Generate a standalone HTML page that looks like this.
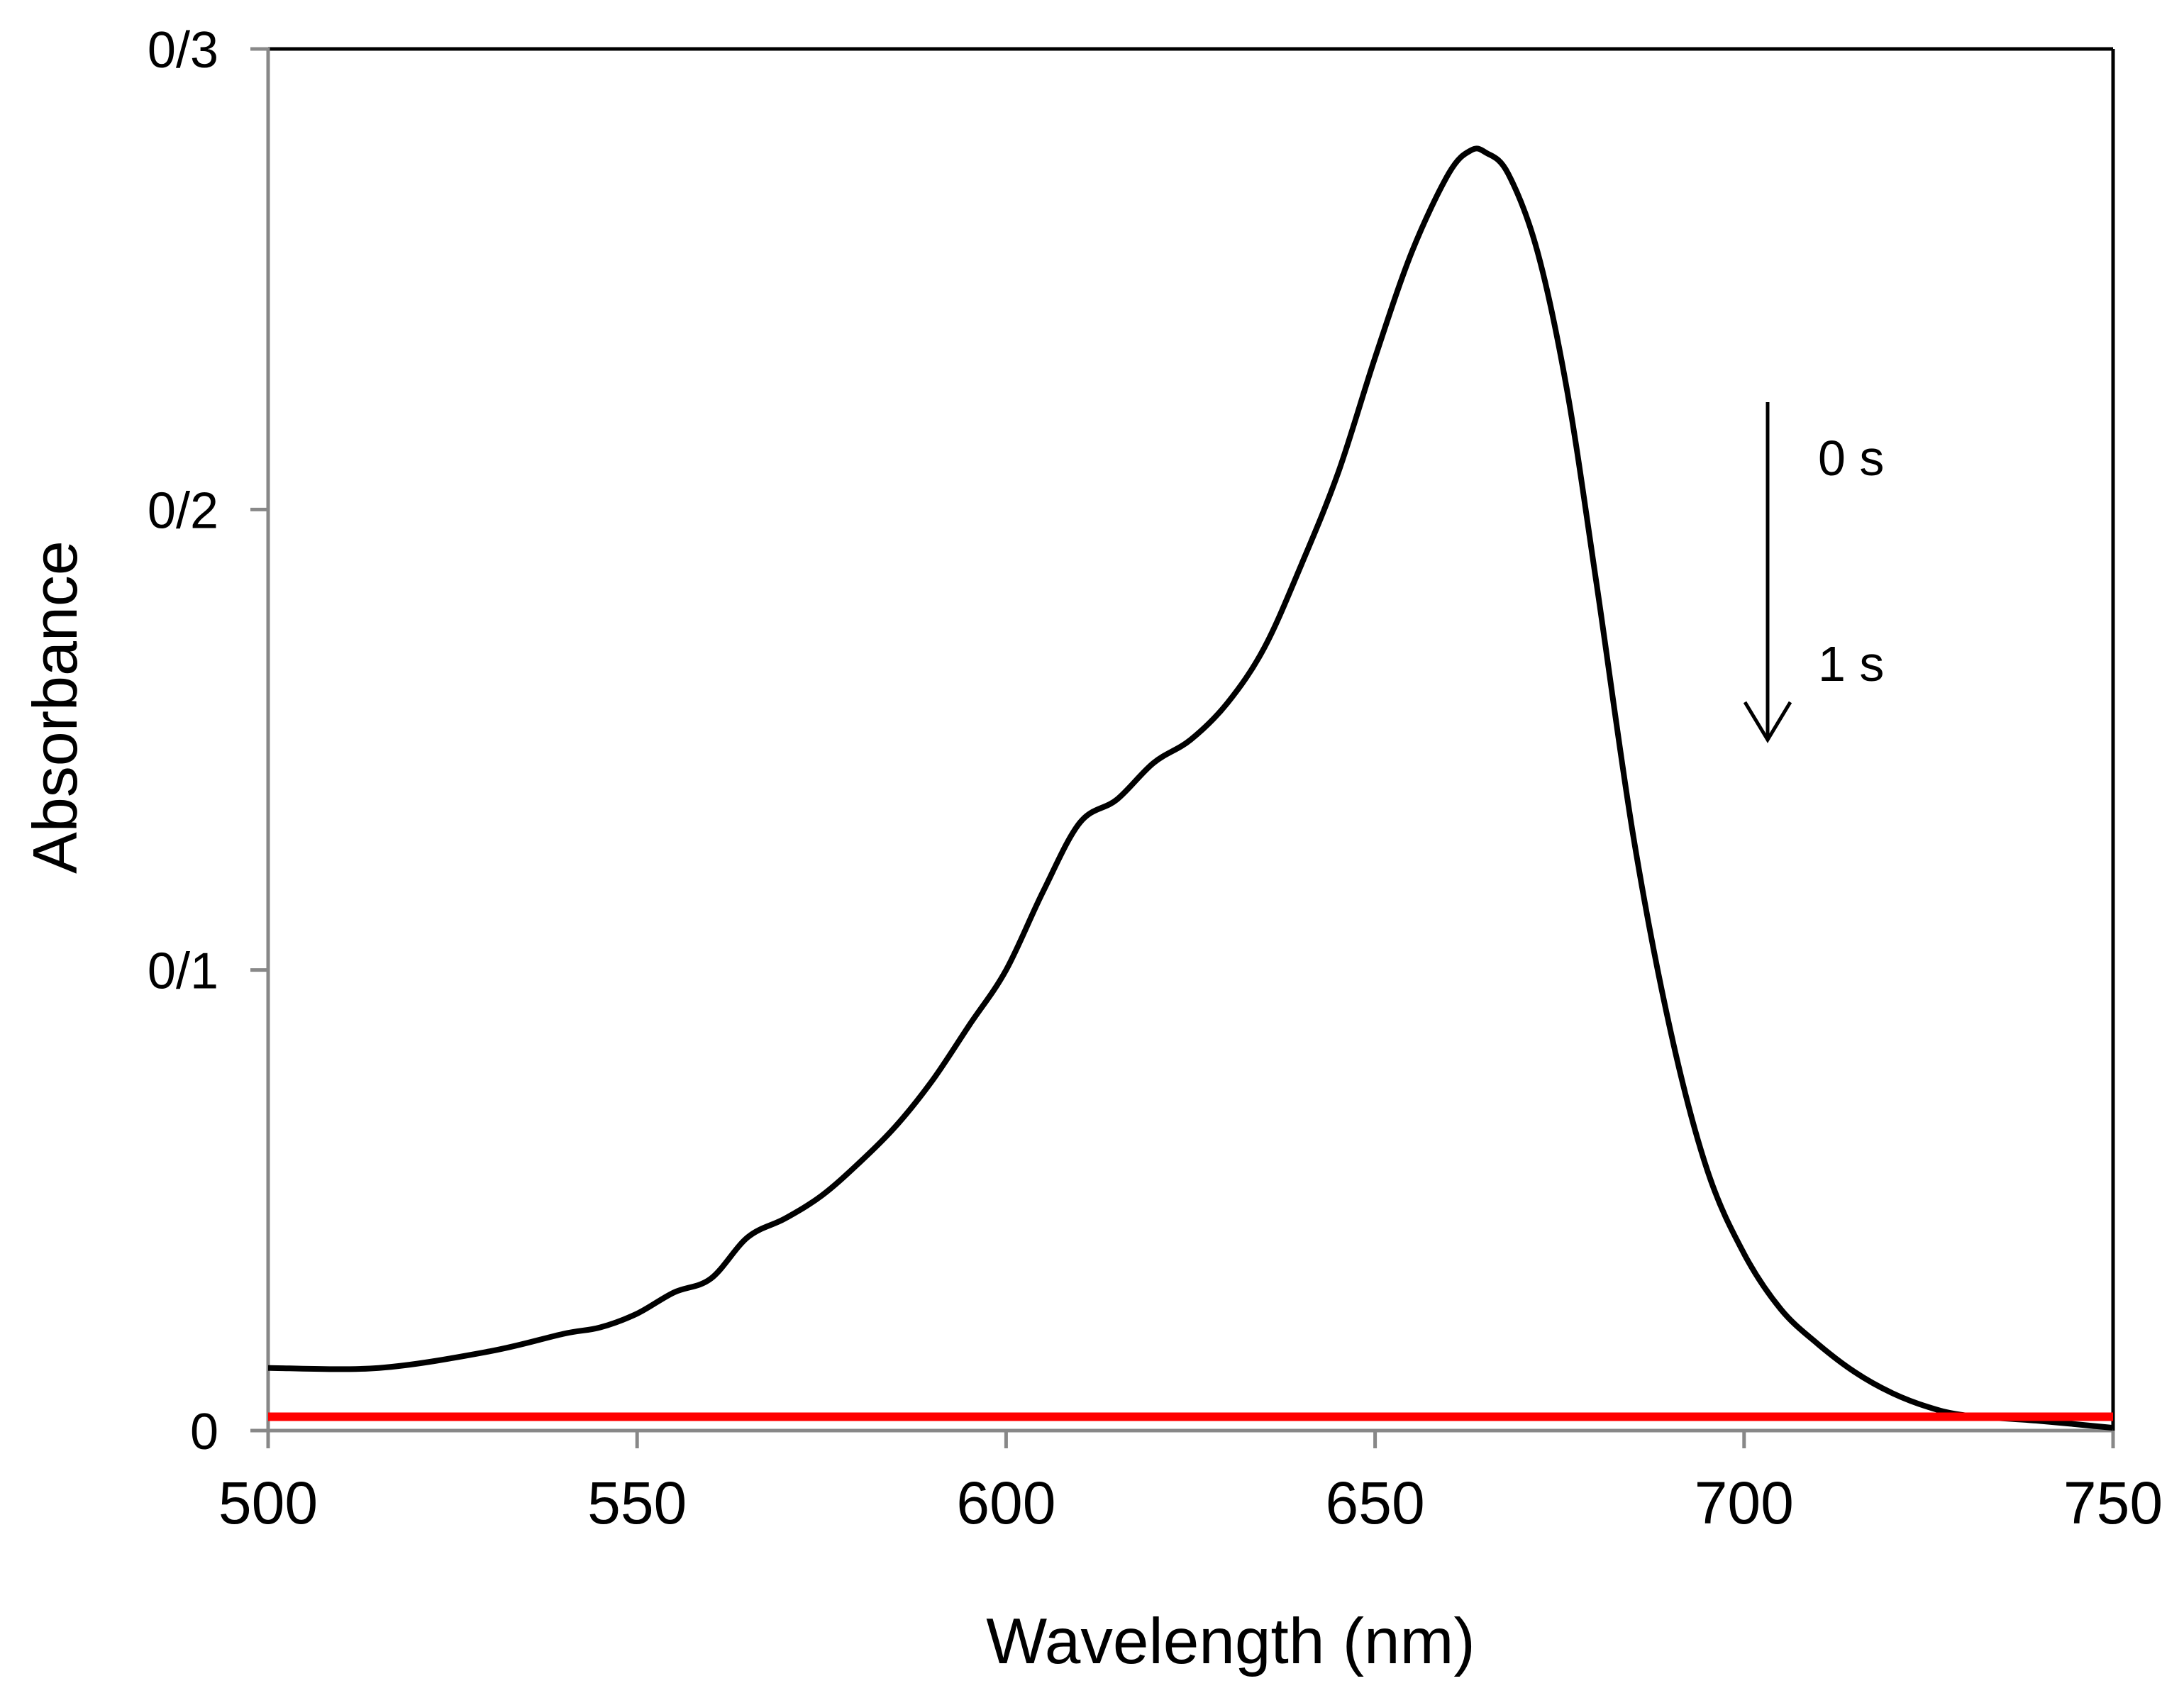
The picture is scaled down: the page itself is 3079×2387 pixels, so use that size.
<!DOCTYPE html>
<html><head><meta charset="utf-8"><style>
html,body{margin:0;padding:0;background:#fff;}
svg{display:block;font-family:"Liberation Sans",sans-serif;}
</style></head><body>
<svg id="chart" width="3079" height="2387" viewBox="0 0 3079 2387" xmlns="http://www.w3.org/2000/svg">
<rect width="3079" height="2387" fill="#fff"/>
<g id="plot"></g>
</svg>
<script>
const wavelengths = [500,515,530,540,545,550,555,560,565,570,575,580,585,590,595,600,605,610,615,620,625,630,635,640,645,650,655,660,663,665,668,672,676,680,685,690,695,700,705,710,715,720,725,730,740,750];
const absorbance0s = [0.0136,0.0136,0.0172,0.021,0.0224,0.0254,0.030,0.033,0.042,0.046,0.051,0.058,0.066,0.076,0.088,0.100,0.117,0.132,0.137,0.145,0.150,0.158,0.170,0.188,0.208,0.233,0.256,0.273,0.278,0.2775,0.273,0.256,0.226,0.184,0.129,0.087,0.0566,0.0384,0.0263,0.0188,0.0127,0.0082,0.0051,0.0033,0.0021,0.0006];
const absorbance1s = [0.003,0.003];
const absorbance1sX = [500,750];
const xTicks = [500,550,600,650,700,750];
const yTicks = [0,0.1,0.2,0.3];
const yTickLabels = ["0","0/1","0/2","0/3"];

const L=378,R=2979,T=69,B=2017;
const xs=v=>L+(v-500)/250*(R-L);
const ys=v=>B-(v/0.3)*(B-T);
const NS="http://www.w3.org/2000/svg";
const g=document.getElementById('plot');
function mk(tag,attrs,name){const e=document.createElementNS(NS,tag);for(const k in attrs)e.setAttribute(k,attrs[k]);


g.appendChild(e);return e;}

mk('line',{x1:L,y1:T,x2:R,y2:T,stroke:'#000','stroke-width':5},'plot-border-top');
mk('line',{x1:R,y1:T,x2:R,y2:B,stroke:'#000','stroke-width':5},'plot-border-right');
mk('line',{x1:L,y1:T-2,x2:L,y2:B+25,stroke:'#888','stroke-width':5},'y-axis');
mk('line',{x1:L-25,y1:B,x2:R,y2:B,stroke:'#888','stroke-width':5},'x-axis');

yTicks.forEach((v,i)=>{
  const y=ys(v);
  mk('line',{x1:L-25,y1:y,x2:L,y2:y,stroke:'#888','stroke-width':5},'y-tick');
  const t=mk('text',{x:308,y:y+26,'text-anchor':'end','font-size':72,fill:'#000'},'y-tick-label');
  t.textContent=yTickLabels[i];
});
xTicks.forEach(v=>{
  const x=xs(v);
  mk('line',{x1:x,y1:B,x2:x,y2:B+25,stroke:'#888','stroke-width':5},'x-tick');
  const t=mk('text',{x:x,y:2148,'text-anchor':'middle','font-size':84,fill:'#000'},'x-tick-label');
  t.textContent=v;
});

function smooth(xa,ya){
  const p=xa.map((x,i)=>[xs(x),ys(ya[i])]);
  let d='M'+p[0][0].toFixed(1)+' '+p[0][1].toFixed(1);
  for(let i=0;i<p.length-1;i++){
    const p0=p[Math.max(0,i-1)],p1=p[i],p2=p[i+1],p3=p[Math.min(p.length-1,i+2)];
    const c1=[p1[0]+(p2[0]-p0[0])/6,p1[1]+(p2[1]-p0[1])/6];
    const c2=[p2[0]-(p3[0]-p1[0])/6,p2[1]-(p3[1]-p1[1])/6];
    d+=' C'+c1.map(n=>n.toFixed(1)).join(' ')+' '+c2.map(n=>n.toFixed(1)).join(' ')+' '+p2[0].toFixed(1)+' '+p2[1].toFixed(1);
  }
  return d;
}
mk('path',{d:smooth(wavelengths,absorbance0s),fill:'none',stroke:'#000','stroke-width':8,'stroke-linejoin':'round'},'series-0s-line');
mk('path',{d:smooth(absorbance1sX,absorbance1s),fill:'none',stroke:'#ff0000','stroke-width':12},'series-1s-line');

mk('line',{x1:2492,y1:567,x2:2492,y2:1043,stroke:'#000','stroke-width':5},'time-arrow');
mk('path',{d:'M2460 990 L2492 1043 L2524 990',fill:'none',stroke:'#000','stroke-width':5},'time-arrow-head');
let t=mk('text',{x:2563,y:670,'font-size':70,fill:'#000'},'label-0s');t.textContent='0 s';
t=mk('text',{x:2563,y:960,'font-size':70,fill:'#000'},'label-1s');t.textContent='1 s';

t=mk('text',{x:1735,y:2345,'text-anchor':'middle','font-size':91,fill:'#000'},'x-axis-title');t.textContent='Wavelength (nm)';
t=mk('text',{x:0,y:0,'text-anchor':'middle','font-size':88,fill:'#000',transform:'translate(108,997) rotate(-90)'},'y-axis-title');t.textContent='Absorbance';
</script>
</body></html>
